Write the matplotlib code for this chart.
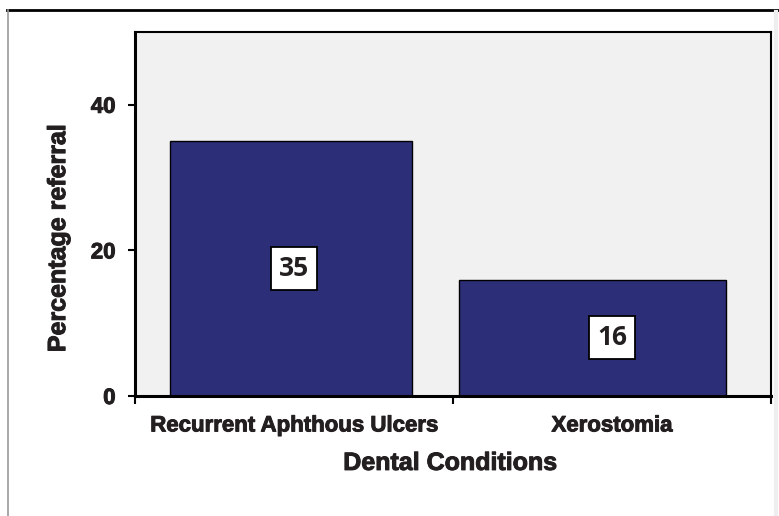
import matplotlib.pyplot as plt
import matplotlib.patheffects as pe
from matplotlib.lines import Line2D

# data
conditions = ["Recurrent Aphthous Ulcers", "Xerostomia"]
referral_pct = [35, 16]
yticks = [0, 20, 40]

# bars are drawn a bit off-centre in the original
bar_widths = [0.76, 0.84]
bar_shift = [-0.01, -0.06]

TXT = "#231f20"
heavy = [pe.withStroke(linewidth=0.7, foreground=TXT)]

fig = plt.figure(figsize=(7.79, 5.16), dpi=100)
ax = fig.add_axes([0.1733, 0.2326, 0.8164, 0.7054])
ax.set_facecolor("#f0f1f0")

xs = [i + s for i, s in enumerate(bar_shift)]
ax.bar(xs, referral_pct, width=bar_widths, color="#2d2e78",
       edgecolor="black", linewidth=1.0, zorder=2)

# value boxes sit at the category centre, half way up
for i, v in enumerate(referral_pct):
    ax.text(i, v / 2, str(v), ha="center", va="center",
            fontsize=19, fontweight="bold", family="Open Sans", color=TXT,
            bbox=dict(boxstyle="square,pad=0.3", facecolor="white",
                      edgecolor="black", linewidth=1.3), zorder=3)

ax.set_xlim(-0.5, 1.5)
ax.set_ylim(0, 50)
ax.set_yticks(yticks)
ax.set_yticklabels([str(t) for t in yticks], fontsize=16, fontweight="bold",
                   family="Liberation Sans", color=TXT)
ax.tick_params(axis="y", direction="out", length=5, width=1.5, pad=9)

ax.set_xticks(range(len(conditions)))
ax.set_xticklabels(conditions, fontsize=16, fontweight="bold",
                   family="Liberation Sans", color=TXT)
ax.tick_params(axis="x", which="major", length=0, pad=14)
ax.set_xticks([-0.5, 0.5, 1.5], minor=True)
ax.tick_params(axis="x", which="minor", direction="out", length=6, width=1.5)

for lbl in ax.get_xticklabels() + ax.get_yticklabels():
    lbl.set_path_effects(heavy)

for side in ["left", "bottom"]:
    ax.spines[side].set_linewidth(2.2)
for side in ["top", "right"]:
    ax.spines[side].set_linewidth(1.5)

ax.set_xlabel("Dental Conditions", fontsize=18, fontweight="bold",
              family="Liberation Sans", color=TXT, path_effects=heavy)
ax.xaxis.set_label_coords(0.4955, -0.151)
ax.set_ylabel("Percentage referral", fontsize=18, fontweight="bold",
              family="Liberation Sans", color=TXT, path_effects=heavy)
ax.yaxis.set_label_coords(-0.102, 0.434)

# outer frame lines of the original figure box
fig.add_artist(Line2D([7 / 779, 1.0], [1 - 10 / 516, 1 - 10 / 516],
                      transform=fig.transFigure, color="black", lw=2))
fig.add_artist(Line2D([8 / 779, 8 / 779], [0, 1 - 10 / 516],
                      transform=fig.transFigure, color="#9a9a9a", lw=1.2))
fig.add_artist(Line2D([776 / 779, 776 / 779], [0, 1 - 12 / 516],
                      transform=fig.transFigure, color="#eeeeee", lw=3))

fig.savefig("out.png", dpi=100)
